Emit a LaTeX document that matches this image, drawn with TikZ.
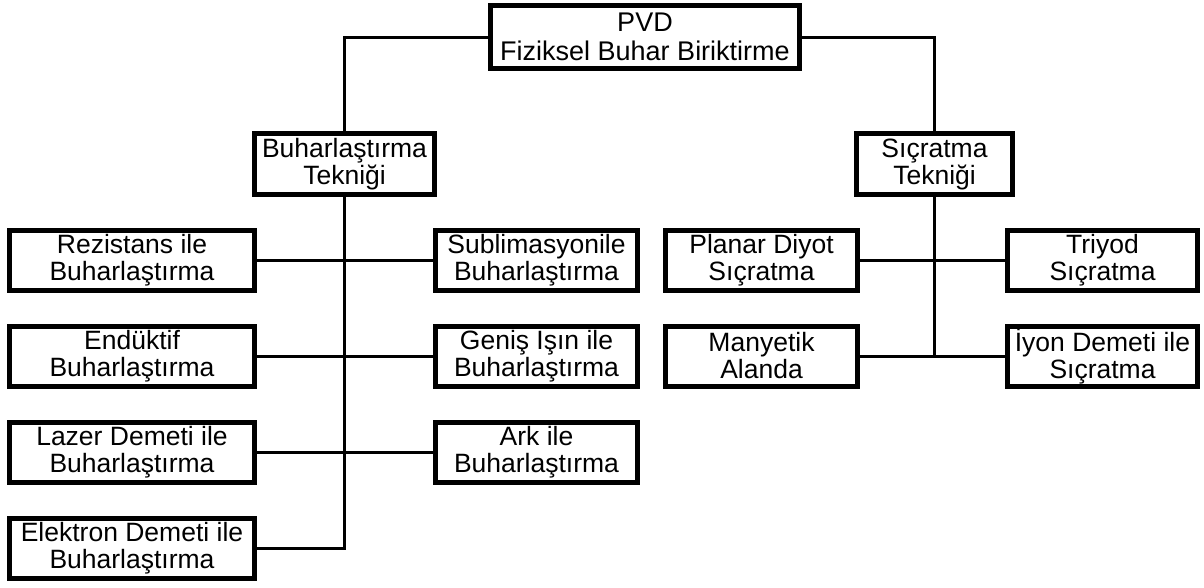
\documentclass[tikz,border=0pt]{standalone}
\usepackage{fontspec}
\setmainfont{Liberation Sans}
\begin{document}
\begin{tikzpicture}[x=1pt,y=-1pt,
  box/.style={draw=black,line width=5pt,fill=white,align=center,inner sep=0pt,
    font=\fontsize{26.5}{27}\selectfont},
  leafA/.style={box,minimum width=245pt,minimum height=60pt},
  leafB/.style={box,minimum width=202pt,minimum height=60pt},
  leafC/.style={box,minimum width=192pt,minimum height=60pt},
  leafD/.style={box,minimum width=190pt,minimum height=60pt},
  conn/.style={line width=3pt,draw=black}]
\useasboundingbox (0,0) rectangle (1204,587);
% top
\node[box,minimum width=309pt,minimum height=63pt,font=\fontsize{27}{29.5}\selectfont] (pvd) at (645,37) {PVD\\Fiziksel Buhar Biriktirme};
\node[box,minimum width=180pt,minimum height=61pt] (buh) at (344.5,164) {Buharlaştırma\\Tekniği};
\node[box,minimum width=156pt,minimum height=61pt] (sic) at (934.5,164) {Sıçratma\\Tekniği};
% left leaves
\node[leafA] (rez) at (132,260) {Rezistans ile\\Buharlaştırma};
\node[leafA] (end) at (132,356) {Endüktif\\Buharlaştırma};
\node[leafA] (laz) at (132,452) {Lazer Demeti ile\\Buharlaştırma};
\node[leafA] (ele) at (132,548) {Elektron Demeti ile\\Buharlaştırma};
\node[leafB] (sub) at (536.5,260) {Sublimasyonile\\Buharlaştırma};
\node[leafB] (gen) at (536.5,356) {Geniş Işın ile\\Buharlaştırma};
\node[leafB] (ark) at (536.5,452) {Ark ile\\Buharlaştırma};
% right leaves
\node[leafC] (pla) at (761.5,260) {Planar Diyot\\Sıçratma};
\node[leafC] (man) at (761.5,356) {Manyetik\\Alanda};
\node[leafD] (tri) at (1102.5,260) {Triyod\\Sıçratma};
\node[leafD] (iyo) at (1102.5,356) {İyon Demeti ile\\Sıçratma};
% connectors
\draw[conn] (pvd.west) -| (buh.north);
\draw[conn] (pvd.east) -| (sic.north);
\draw[conn] (buh.south) |- (ele.east);
\draw[conn] (rez.east) -- (sub.west);
\draw[conn] (end.east) -- (gen.west);
\draw[conn] (laz.east) -- (ark.west);
\draw[conn] (sic.south) |- (man.east);
\draw[conn] (man.east) -- (iyo.west);
\draw[conn] (pla.east) -- (tri.west);
\end{tikzpicture}
\end{document}
